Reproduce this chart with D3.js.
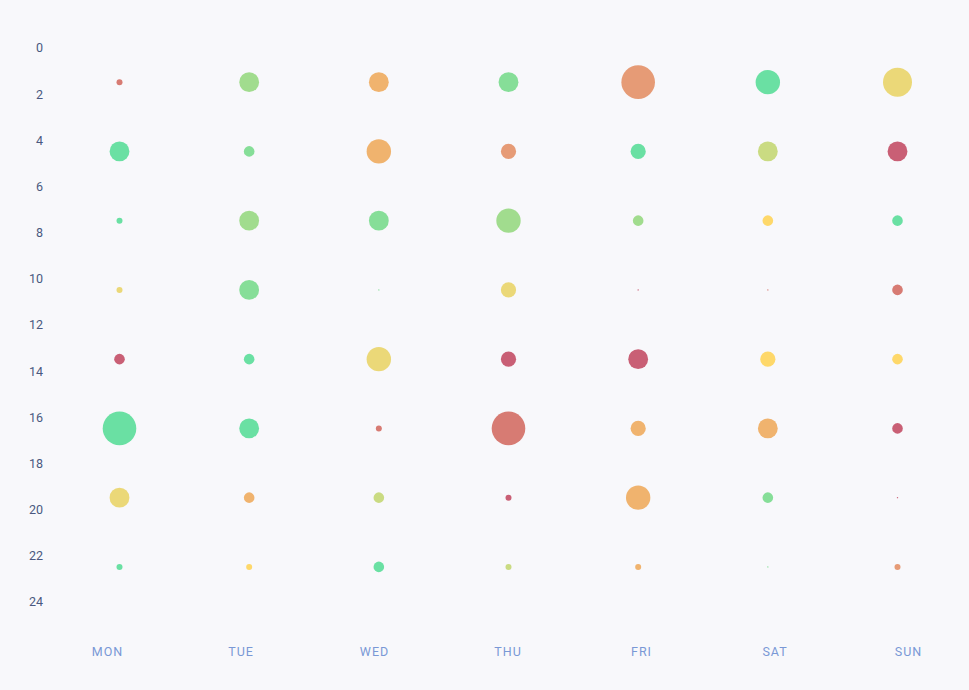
<!DOCTYPE html>
<html>
<head>
<meta charset="utf-8">
<script src="https://cdn.jsdelivr.net/npm/d3@7"></script>
<style>
    html, body { margin: 0; padding: 0; background: #f8f8fb; }
    svg { display: block; }
    .y-axis text { font-family: Roboto, "Open Sans", sans-serif; font-size: 12.5px; fill: #4a5880; }
    .x-axis text { font-family: Roboto, "Open Sans", sans-serif; font-size: 12.5px; fill: #7a98d6; letter-spacing: 1px; }
</style>
</head>
<body>
<svg id="chart" width="969" height="690"></svg>
<script>
// Data
const days = ["MON", "TUE", "WED", "THU", "FRI", "SAT", "SUN"];
const hours = [1.5, 4.5, 7.5, 10.5, 13.5, 16.5, 19.5, 22.5];
const hourTicks = [0, 2, 4, 6, 8, 10, 12, 14, 16, 18, 20, 22, 24];

// size value per day, one entry per hour slot
const sizeMon = [1, 4, 1, 1, 2, 7, 4, 1];
const sizeTue = [4, 2, 4, 4, 2, 4, 2, 1];
const sizeWed = [4, 5, 4, 0, 5, 1, 2, 2];
const sizeThu = [4, 3, 5, 3, 3, 7, 1, 1];
const sizeFri = [7, 3, 2, 0, 4, 3, 5, 1];
const sizeSat = [5, 4, 2, 0, 3, 4, 2, 0];
const sizeSun = [6, 4, 2, 2, 2, 2, 0, 1];

// colour group per day, one entry per hour slot
const groupMon = ["red", "teal", "teal", "yellow", "crimson", "teal", "yellow", "teal"];
const groupTue = ["lime", "green", "lime", "green", "teal", "teal", "orange", "gold"];
const groupWed = ["orange", "orange", "green", "green", "yellow", "red", "olive", "teal"];
const groupThu = ["green", "salmon", "lime", "yellow", "crimson", "red", "crimson", "olive"];
const groupFri = ["salmon", "teal", "lime", "crimson", "crimson", "orange", "orange", "orange"];
const groupSat = ["teal", "olive", "gold", "red", "gold", "orange", "green", "green"];
const groupSun = ["yellow", "crimson", "teal", "red", "gold", "crimson", "crimson", "salmon"];

const sizes = [sizeMon, sizeTue, sizeWed, sizeThu, sizeFri, sizeSat, sizeSun];
const groups = [groupMon, groupTue, groupWed, groupThu, groupFri, groupSat, groupSun];

const data = [];
days.forEach((day, i) => {
    hours.forEach((h, j) => {
        data.push({ day: day, hour: h, size: sizes[i][j], group: groups[i][j] });
    });
});

const svg = d3.select("#chart");

// Scales
const xScale = d3.scalePoint()
    .domain(days)
    .range([119.5, 897.5]);

const xLabelScale = d3.scalePoint()
    .domain(days)
    .range([107, 908]);

const yScale = d3.scaleLinear()
    .domain([0, 24])
    .range([47.5, 601.5]);

const rScale = d3.scaleLinear()
    .domain([0, 7])
    .range([0.7, 16.8]);

const colorScale = d3.scaleOrdinal()
    .domain(["red", "crimson", "salmon", "orange", "yellow", "gold", "olive", "lime", "green", "teal"])
    .range(["#d77b73", "#c95f75", "#e69b76", "#f0b36e", "#ebd878", "#fed86a", "#cadb82", "#a1dc8e", "#86de98", "#6ae0a3"]);

// Axes
const yAxis = d3.axisLeft(yScale).tickValues(hourTicks).tickSize(0).tickPadding(0);
svg.append("g")
    .attr("class", "y-axis")
    .attr("transform", "translate(43,0)")
    .call(yAxis)
    .call(g => g.select(".domain").remove())
    .selectAll("text")
    .attr("dy", "0.35em");

const xAxis = d3.axisBottom(xLabelScale).tickSize(0).tickPadding(0);
svg.append("g")
    .attr("class", "x-axis")
    .attr("transform", "translate(0,647)")
    .call(xAxis)
    .call(g => g.select(".domain").remove());

// Bubbles
svg.append("g")
    .selectAll("circle")
    .data(data)
    .enter().append("circle")
    .attr("cx", d => xScale(d.day))
    .attr("cy", d => yScale(d.hour))
    .attr("r", d => rScale(d.size))
    .attr("fill", d => colorScale(d.group));
</script>
</body>
</html>
